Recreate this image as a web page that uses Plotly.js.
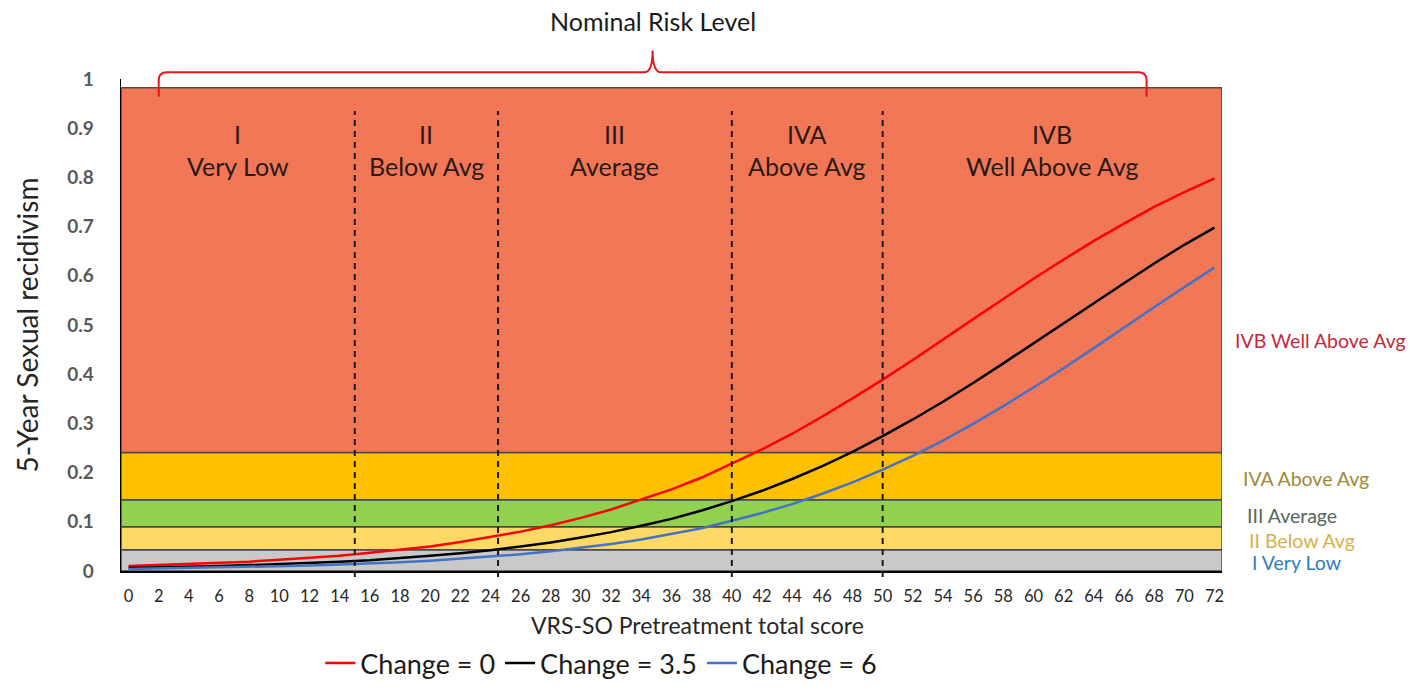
<!DOCTYPE html>
<html>
<head>
<meta charset="utf-8">
<script src="https://cdn.plot.ly/plotly-3.0.1.min.js"></script>
<style>html,body{margin:0;padding:0;background:#fff;}#chart{width:1413px;height:700px;}</style>
</head>
<body>
<div id="chart"></div>
<script>
// ---- data ----
const scores = [0,2,4,6,8,10,12,14,16,18,20,22,24,26,28,30,32,34,36,38,40,42,44,46,48,50,52,54,56,58,60,62,64,66,68,70,72];
const change0 = [0.010,0.012,0.014,0.016,0.019,0.023,0.027,0.031,0.037,0.043,0.050,0.059,0.069,0.080,0.093,0.108,0.125,0.145,0.166,0.190,0.218,0.247,0.279,0.314,0.351,0.389,0.429,0.471,0.512,0.553,0.594,0.633,0.671,0.706,0.740,0.770,0.798];
const change35 = [0.006,0.007,0.008,0.010,0.012,0.014,0.016,0.019,0.022,0.026,0.031,0.036,0.042,0.050,0.058,0.068,0.079,0.092,0.106,0.123,0.142,0.163,0.187,0.213,0.242,0.274,0.308,0.344,0.382,0.422,0.463,0.504,0.545,0.585,0.625,0.663,0.698];
const change6 = [0.004,0.005,0.006,0.007,0.008,0.009,0.011,0.013,0.015,0.018,0.021,0.025,0.029,0.034,0.040,0.047,0.055,0.064,0.075,0.087,0.102,0.118,0.136,0.157,0.180,0.206,0.234,0.265,0.299,0.335,0.373,0.412,0.453,0.495,0.536,0.577,0.617];
const seriesNames = ["Change = 0","Change = 3.5","Change = 6"];

// risk bands (5-year recidivism)
const bandLow  = [0, 0.043, 0.090, 0.145, 0.241];
const bandHigh = [0.043, 0.090, 0.145, 0.241, 0.982];
const bandLabels = ["I Very Low","II Below Avg","III Average","IVA Above Avg","IVB Well Above Avg"];

// nominal risk level cut points on the score axis
const cutScores = [15, 24.5, 40, 50];
const levelNumerals = ["I","II","III","IVA","IVB"];
const levelNames = ["Very Low","Below Avg","Average","Above Avg","Well Above Avg"];

const yTicks = [0,0.1,0.2,0.3,0.4,0.5,0.6,0.7,0.8,0.9,1];
const yTickText = ["0","0.1","0.2","0.3","0.4","0.5","0.6","0.7","0.8","0.9","1"];

// ---- styles ----
const xMin = -0.5, xMax = 72.5;
const bandColors = ["#C9C9C9","#FFD966","#92D050","#FFC000","#F27757"];
const bandTextColors = ["#2F7DC0","#D4B24A","#55675A","#9E8A3A","#C8283A"];
const lineColors = ["#FF0000","#000000","#4472C4"];
const FONT = "Lato, 'Open Sans', sans-serif";

const traces = [change0, change35, change6].map((ys, i) => ({
  x: scores, y: ys, type: "scatter", mode: "lines", name: seriesNames[i],
  line: {color: lineColors[i], width: 2.5}, hoverinfo: "x+y"
}));

const shapes = [];
bandLow.forEach((lo, i) => {
  shapes.push({type: "rect", xref: "x", yref: "y", x0: xMin, x1: xMax, y0: lo, y1: bandHigh[i],
    fillcolor: bandColors[i], line: {color: "#4a4a4a", width: 1.5}, layer: "below"});
});
cutScores.forEach(c => {
  shapes.push({type: "line", xref: "x", yref: "paper", x0: c, x1: c, y0: -0.012, y1: 0.935,
    line: {color: "#1a1a1a", width: 2, dash: "6px,5px"}, layer: "above"});
});
// brace
const bL = 2, bR = 67.5, bM = (bL + bR) / 2;
const yEnd = 0.964, yBar = 1.0138, yTip = 1.058;
const bracePath = `M ${bL},${yEnd} L ${bL},0.998 Q ${bL},${yBar} ${bL+0.55},${yBar} L ${bM-0.55},${yBar} Q ${bM},${yBar} ${bM},${yTip} Q ${bM},${yBar} ${bM+0.55},${yBar} L ${bR-0.55},${yBar} Q ${bR},${yBar} ${bR},0.998 L ${bR},${yEnd}`;
shapes.push({type: "path", xref: "x", yref: "paper", path: bracePath, line: {color: "#E8141B", width: 2}, layer: "above"});

const annotations = [];
const bounds = [xMin].concat(cutScores).concat([xMax]);
levelNumerals.forEach((n, i) => {
  const cx = (bounds[i] + bounds[i+1]) / 2;
  annotations.push({xref: "x", yref: "paper", x: cx, y: 0.889, text: n, showarrow: false,
    font: {family: FONT, size: 25, color: "#2a1a14"}, xanchor: "center", yanchor: "middle"});
  annotations.push({xref: "x", yref: "paper", x: cx, y: 0.824, text: levelNames[i], showarrow: false,
    font: {family: FONT, size: 25, color: "#2a1a14"}, xanchor: "center", yanchor: "middle"});
});
const rightLabelY = [0.018, 0.063, 0.113, 0.188, 0.468];
const rightLabelX = [1.0255, 1.0225, 1.021, 1.0175, 1.010];
bandLabels.forEach((t, i) => {
  annotations.push({xref: "paper", yref: "paper", x: rightLabelX[i], y: rightLabelY[i], text: t, showarrow: false,
    font: {family: FONT, size: 19.5, color: bandTextColors[i]}, xanchor: "left", yanchor: "middle"});
});
annotations.push({xref: "x", yref: "paper", x: bM, y: 1.117, text: "Nominal Risk Level", showarrow: false,
  font: {family: FONT, size: 25, color: "#1a1a1a"}, xanchor: "center", yanchor: "middle"});
annotations.push({xref: "paper", yref: "paper", x: 0.524, y: -0.109, text: "VRS-SO Pretreatment total score", showarrow: false,
  font: {family: FONT, size: 23, color: "#262626"}, xanchor: "center", yanchor: "middle"});

const layout = {
  width: 1413, height: 700,
  margin: {l: 121, r: 191, t: 79, b: 115, pad: 0},
  paper_bgcolor: "#ffffff", plot_bgcolor: "#ffffff",
  showlegend: true,
  legend: {orientation: "h", x: 0.181, xanchor: "left", y: -0.188, yanchor: "middle",
    font: {family: FONT, size: 27, color: "#1a1a1a"}, bgcolor: "rgba(0,0,0,0)", itemwidth: 30, tracegroupgap: 0},
  xaxis: {range: [xMin, xMax], tickmode: "array", tickvals: scores, ticktext: scores.map(String),
    showgrid: false, zeroline: false, showline: true, linecolor: "#000000", linewidth: 1.5,
    ticks: "", ticklabelstandoff: 10, tickfont: {family: FONT, size: 16.5, color: "#262626"}},
  yaxis: {range: [0, 1], tickmode: "array", tickvals: yTicks, ticktext: yTickText,
    showgrid: false, zeroline: false, showline: true, linecolor: "#000000", linewidth: 1.5,
    ticks: "", ticklabelstandoff: 22, tickfont: {family: FONT, size: 19, color: "#595959", weight: "bold"},
    title: {text: "5-Year Sexual recidivism", font: {family: FONT, size: 28, color: "#262626"}, standoff: 20}},
  shapes: shapes,
  annotations: annotations
};

Plotly.newPlot("chart", traces, layout, {displayModeBar: false, staticPlot: true});
</script>
</body>
</html>
